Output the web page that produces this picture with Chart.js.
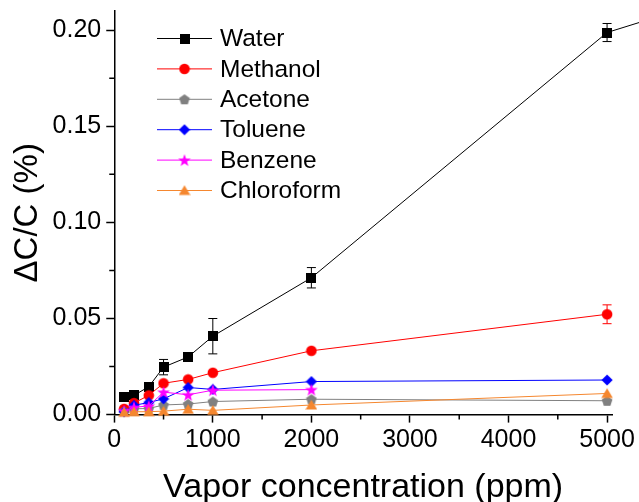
<!DOCTYPE html>
<html><head><meta charset="utf-8">
<script src="https://cdn.jsdelivr.net/npm/chart.js@4/dist/chart.umd.min.js"></script>
<style>html,body{margin:0;padding:0;background:#fff}#wrap{width:639px;height:502px}</style>
</head><body><div id="wrap"><canvas id="c" width="639" height="502"></canvas></div>
<script>
// ---- data ----
const concentrations = [100, 200, 350, 500, 750, 1000, 2000, 5000];
const seriesNames = ['Water', 'Methanol', 'Acetone', 'Toluene', 'Benzene', 'Chloroform'];
const water      = [0.0089, 0.0100, 0.0145, 0.0247, 0.0300, 0.0408, 0.0712, 0.1988];
const waterErr   = [0.0005, 0.0005, 0.0010, 0.0040, 0.0020, 0.0092, 0.0053, 0.0047];
const methanol   = [0.0030, 0.0060, 0.0100, 0.0163, 0.0183, 0.0218, 0.0332, 0.0522];
const methanolErr= [0, 0, 0, 0, 0, 0, 0, 0.0049];
const acetone    = [0.0018, 0.0030, 0.0032, 0.0050, 0.0055, 0.0068, 0.0080, 0.0072];
const toluene    = [0.0015, 0.0048, 0.0063, 0.0082, 0.0141, 0.0131, 0.0172, 0.0180];
const benzene    = [0.0020, 0.0038, 0.0045, 0.0117, 0.0103, 0.0127, 0.0130, null];
const chloroform = [0.0012, 0.0015, 0.0015, 0.0018, 0.0028, 0.0022, 0.0050, 0.0110];
// Water continues to a further point outside the visible (cropped) range
const waterNextX = 5600;
const waterNextY = 0.2084;
const xTicks = [0, 1000, 2000, 3000, 4000, 5000];
const yTicks = [0.00, 0.05, 0.10, 0.15, 0.20];
const xMinorTicks = [500, 1500, 2500, 3500, 4500];
const yMinorTicks = [0.025, 0.075, 0.125, 0.175];

// ---- marker images ----
function mk(size, draw) {
  const c = document.createElement('canvas');
  c.width = size; c.height = size;
  const g = c.getContext('2d');
  draw(g, size / 2);
  return c;
}
function poly(g, cx, cy, pts, color) {
  g.beginPath();
  pts.forEach((p, i) => i ? g.lineTo(cx + p[0], cy + p[1]) : g.moveTo(cx + p[0], cy + p[1]));
  g.closePath(); g.fillStyle = color; g.fill();
}
const COL = {water:'#000000', methanol:'#ff0000', acetone:'#808080', toluene:'#0000ff', benzene:'#ff00ff', chloroform:'#f5872f'};
const mSquare = mk(10, (g, c) => { g.fillStyle = COL.water; g.fillRect(0, 0, 10, 10); });
const mCircle = mk(12, (g, c) => { g.beginPath(); g.arc(c, c, 5.3, 0, Math.PI * 2); g.fillStyle = COL.methanol; g.fill(); });
const mPent = mk(12, (g, c) => {
  const pts = []; for (let i = 0; i < 5; i++) { const a = -Math.PI / 2 + i * 2 * Math.PI / 5; pts.push([5.6 * Math.cos(a), 5.6 * Math.sin(a) + 0.5]); }
  poly(g, c, c, pts, COL.acetone);
});
const mDiamond = mk(12, (g, c) => poly(g, c, c, [[0,-5.6],[5.6,0],[0,5.6],[-5.6,0]], COL.toluene));
const mStar = mk(14, (g, c) => {
  const pts = []; for (let i = 0; i < 10; i++) { const a = -Math.PI / 2 + i * Math.PI / 5; const r = i % 2 ? 2.7 : 6.6; pts.push([r * Math.cos(a), r * Math.sin(a) + 0.6]); }
  poly(g, c, c, pts, COL.benzene);
});
const mTri = mk(12, (g, c) => poly(g, c, c, [[0,-5.2],[5.8,4.6],[-5.8,4.6]], COL.chloroform));

function pts(xs, ys) { return xs.map((x, i) => ({x: x, y: ys[i]})); }

const seriesValues = [water, methanol, acetone, toluene, benzene, chloroform];
const seriesErrors = [waterErr, methanolErr, null, null, null, null];
const seriesColors = [COL.water, COL.methanol, COL.acetone, COL.toluene, COL.benzene, COL.chloroform];
const seriesMarkers = [mSquare, mCircle, mPent, mDiamond, mStar, mTri];

const datasets = seriesNames.map((name, i) => {
  let data = pts(concentrations, seriesValues[i]);
  if (i === 0) data = data.concat([{x: waterNextX, y: waterNextY}]);
  return {
    label: name,
    data: data,
    errors: seriesErrors[i],
    borderColor: seriesColors[i],
    backgroundColor: seriesColors[i],
    borderWidth: 1,
    pointStyle: seriesMarkers[i],
    pointRadius: 6,
    tension: 0,
    clip: false,
    order: seriesNames.length - i
  };
});

const FONT = "'Liberation Sans', Arial, sans-serif";

const extras = {
  id: 'extras',
  afterDatasetsDraw(chart) {
    const ctx = chart.ctx, xs = chart.scales.x, ys = chart.scales.y;
    chart.data.datasets.forEach((ds) => {
      if (!ds.errors) return;
      ctx.save(); ctx.strokeStyle = ds.borderColor; ctx.lineWidth = 1;
      ds.errors.forEach((e, j) => {
        if (!e) return;
        const px = xs.getPixelForValue(concentrations[j]);
        const y1 = ys.getPixelForValue(ds.data[j].y + e), y2 = ys.getPixelForValue(ds.data[j].y - e);
        ctx.beginPath();
        ctx.moveTo(px, y1); ctx.lineTo(px, y2);
        ctx.moveTo(px - 4.5, y1); ctx.lineTo(px + 4.5, y1);
        ctx.moveTo(px - 4.5, y2); ctx.lineTo(px + 4.5, y2);
        ctx.stroke();
      });
      ctx.restore();
    });
  },
  afterDraw(chart) {
    const ctx = chart.ctx, xs = chart.scales.x, ys = chart.scales.y, a = chart.chartArea;
    ctx.save();
    ctx.strokeStyle = '#000'; ctx.lineWidth = 1.5;
    ctx.beginPath();
    yMinorTicks.forEach(v => { const p = ys.getPixelForValue(v); ctx.moveTo(a.left - 5, p); ctx.lineTo(a.left, p); });
    xMinorTicks.forEach(v => { const p = xs.getPixelForValue(v); ctx.moveTo(p, a.bottom); ctx.lineTo(p, a.bottom + 5); });
    ctx.stroke();
    // legend
    const lx1 = 157, lx2 = 212, ly0 = 38.5, step = 30.4;
    ctx.font = '24.5px ' + FONT; ctx.textBaseline = 'middle'; ctx.textAlign = 'left'; ctx.fillStyle = '#000';
    chart.data.datasets.forEach((ds, i) => {
      const y = ly0 + i * step;
      ctx.strokeStyle = ds.borderColor; ctx.lineWidth = 1;
      ctx.beginPath(); ctx.moveTo(lx1, y); ctx.lineTo(lx2, y); ctx.stroke();
      const img = ds.pointStyle;
      ctx.drawImage(img, (lx1 + lx2) / 2 - img.width / 2, y - img.height / 2);
      ctx.fillStyle = '#000';
      ctx.fillText(ds.label, 220, y + 1);
    });
    ctx.restore();
  }
};

new Chart(document.getElementById('c'), {
  type: 'line',
  data: { datasets: datasets },
  options: {
    responsive: false,
    animation: false,
    devicePixelRatio: 1,
    layout: { padding: { top: 11, right: 27, left: 8, bottom: 0 } },
    plugins: { legend: { display: false }, tooltip: { enabled: false } },
    scales: {
      x: {
        type: 'linear', min: 0, max: 5050,
        afterBuildTicks: s => { s.ticks = xTicks.map(v => ({value: v})); },
        ticks: { font: { size: 25, family: FONT }, color: '#000', padding: 3, maxRotation: 0, callback: v => String(v) },
        grid: { drawOnChartArea: false, tickLength: 8, tickColor: '#000', tickWidth: 1.5 },
        border: { color: '#000', width: 1.5 },
        title: { display: true, text: 'Vapor concentration (ppm)', color: '#000', font: { size: 34, family: FONT, lineHeight: 0.85 }, padding: { top: 14.5, bottom: 0 } }
      },
      y: {
        type: 'linear', min: 0, max: 0.21,
        afterBuildTicks: s => { s.ticks = yTicks.map(v => ({value: v})); },
        afterFit: s => { s.paddingTop = 0; s.paddingBottom = 0; },
        ticks: { font: { size: 25, family: FONT }, color: '#000', padding: 5, callback: v => v.toFixed(2) },
        grid: { drawOnChartArea: false, tickLength: 8, tickColor: '#000', tickWidth: 1.5 },
        border: { color: '#000', width: 1.5 },
        title: { display: true, text: 'ΔC/C (%)', color: '#000', font: { size: 33, family: FONT }, padding: { top: 0, bottom: 0 } }
      }
    }
  },
  plugins: [extras]
});
</script>
</body></html>
